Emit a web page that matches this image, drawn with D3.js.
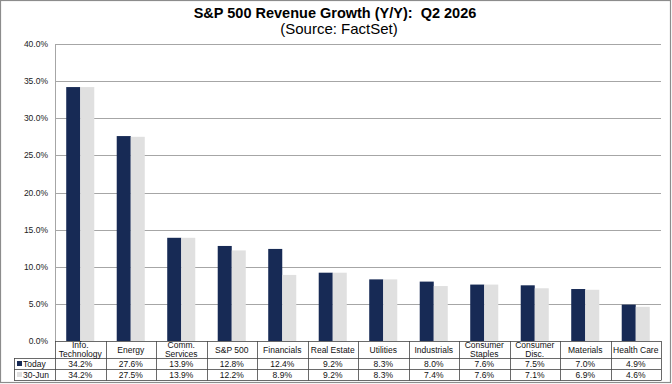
<!DOCTYPE html>
<html>
<head>
<meta charset="utf-8">
<script src="https://cdn.jsdelivr.net/npm/d3@7"></script>
<style>
  body { margin: 0; background: #fff; }
  text { font-family: Arial, "Liberation Sans", sans-serif; }
</style>
</head>
<body>
<div id="chart"></div>
<script>
// sector categories, with line breaks as shown under the bars
const categories = ["Info. Technology", "Energy", "Comm. Services", "S&P 500", "Financials", "Real Estate",
    "Utilities", "Industrials", "Consumer Staples", "Consumer Disc.", "Materials", "Health Care"];
const categoryLines = [["Info.", "Technology"], ["Energy"], ["Comm.", "Services"], ["S&P 500"], ["Financials"], ["Real Estate"],
    ["Utilities"], ["Industrials"], ["Consumer", "Staples"], ["Consumer", "Disc."], ["Materials"], ["Health Care"]];
const seriesNames = ["Today", "30-Jun"];
const todayValues = [34.2, 27.6, 13.9, 12.8, 12.4, 9.2, 8.3, 8.0, 7.6, 7.5, 7.0, 4.9];
const juneValues = [34.2, 27.5, 13.9, 12.2, 8.9, 9.2, 8.3, 7.4, 7.6, 7.1, 6.9, 4.6];
const yTicks = [0, 5, 10, 15, 20, 25, 30, 35, 40];
const colors = {"Today": "#172a55", "30-Jun": "#e0e0e0"};

const W = 672, H = 384;
const plot = {left: 55, right: 661, top: 44, bottom: 341};

const svg = d3.select("#chart").append("svg")
    .attr("width", W)
    .attr("height", H);

// outer frame
svg.append("rect")
    .attr("x", 0.5).attr("y", 0.5)
    .attr("width", W - 2).attr("height", H - 2)
    .attr("fill", "#fff")
    .attr("stroke", "#8c8c8c")
    .attr("stroke-width", 1.2);

// titles
svg.append("text")
    .attr("x", 335).attr("y", 18)
    .attr("text-anchor", "middle")
    .style("font-size", "14.5px").style("font-weight", "bold")
    .style("white-space", "pre")
    .text("S&P 500 Revenue Growth (Y/Y):  Q2 2026");
svg.append("text")
    .attr("x", 339).attr("y", 34)
    .attr("text-anchor", "middle")
    .style("font-size", "15px")
    .text("(Source: FactSet)");

// scales
const x = d3.scaleBand()
    .domain(categories)
    .range([plot.left, plot.right]);
const xInner = d3.scaleBand()
    .domain(seriesNames)
    .range([0, x.bandwidth()])
    .paddingOuter(0.8);
const y = d3.scaleLinear()
    .domain([0, 40])
    .range([plot.bottom, plot.top]);

// gridlines
svg.append("g")
    .selectAll("line")
    .data(yTicks.filter(d => d > 0))
    .join("line")
    .attr("x1", plot.left).attr("x2", plot.right)
    .attr("y1", d => Math.round(y(d)) + 0.5).attr("y2", d => Math.round(y(d)) + 0.5)
    .attr("stroke", "#a6a6a6");

// y axis labels
svg.append("g")
    .selectAll("text")
    .data(yTicks)
    .join("text")
    .attr("x", 48)
    .attr("y", d => y(d) + 3)
    .attr("text-anchor", "end")
    .style("font-size", "8.5px")
    .style("fill", "#222")
    .text(d => d.toFixed(1) + "%");

// bars
const rows = categories.map((c, i) => ({cat: c, values: [
    {name: "Today", value: todayValues[i]},
    {name: "30-Jun", value: juneValues[i]}
]}));

svg.append("g")
    .selectAll("g")
    .data(rows)
    .join("g")
    .attr("transform", d => `translate(${x(d.cat)},0)`)
    .selectAll("rect")
    .data(d => d.values)
    .join("rect")
    .attr("x", d => xInner(d.name))
    .attr("y", d => y(d.value))
    .attr("width", xInner.bandwidth())
    .attr("height", d => y(0) - y(d.value))
    .attr("fill", d => colors[d.name]);

// y axis line
svg.append("line")
    .attr("x1", plot.left + 0.5).attr("x2", plot.left + 0.5)
    .attr("y1", plot.top).attr("y2", plot.bottom)
    .attr("stroke", "#a6a6a6");

// data table under the chart
const tbl = {catBottom: 358, row1Bottom: 369, row2Bottom: 380, labelLeft: 14};
const tg = svg.append("g");
const lineColor = "#444";

// horizontal lines
[[plot.left, plot.bottom], [tbl.labelLeft, tbl.catBottom], [tbl.labelLeft, tbl.row1Bottom], [tbl.labelLeft, tbl.row2Bottom]]
    .forEach(([x0, yy]) => {
        tg.append("line")
            .attr("x1", x0).attr("x2", plot.right)
            .attr("y1", yy + 0.5).attr("y2", yy + 0.5)
            .attr("stroke", lineColor).attr("stroke-width", 0.8);
    });

// vertical lines
tg.selectAll("line.v")
    .data(categories.map(c => x(c)).concat([plot.right]))
    .join("line")
    .attr("class", "v")
    .attr("x1", d => Math.round(d) + 0.5).attr("x2", d => Math.round(d) + 0.5)
    .attr("y1", plot.bottom).attr("y2", tbl.row2Bottom + 0.5)
    .attr("stroke", lineColor).attr("stroke-width", 0.8);
tg.append("line")
    .attr("x1", tbl.labelLeft + 0.5).attr("x2", tbl.labelLeft + 0.5)
    .attr("y1", tbl.catBottom).attr("y2", tbl.row2Bottom + 0.5)
    .attr("stroke", lineColor).attr("stroke-width", 0.8);

// category labels
categories.forEach((c, i) => {
    const lines = categoryLines[i];
    const cx = x(c) + x.bandwidth() / 2;
    const t = tg.append("text")
        .attr("text-anchor", "middle")
        .style("font-size", "8.5px")
        .style("fill", "#111");
    if (lines.length === 1) {
        t.append("tspan").attr("x", cx).attr("y", 352.5).text(lines[0]);
    } else {
        t.append("tspan").attr("x", cx).attr("y", 348).text(lines[0]);
        t.append("tspan").attr("x", cx).attr("y", 356.5).text(lines[1]);
    }
});

// series rows
const seriesRows = [
    {name: "Today", values: todayValues, yText: 367},
    {name: "30-Jun", values: juneValues, yText: 378}
];
seriesRows.forEach(r => {
    tg.append("rect")
        .attr("x", 17).attr("y", r.yText - 6)
        .attr("width", 5).attr("height", 5)
        .attr("fill", colors[r.name]);
    tg.append("text")
        .attr("x", 23).attr("y", r.yText)
        .style("font-size", "8.5px")
        .style("fill", "#111")
        .text(r.name);
    r.values.forEach((v, i) => {
        tg.append("text")
            .attr("x", x(categories[i]) + x.bandwidth() / 2)
            .attr("y", r.yText)
            .attr("text-anchor", "middle")
            .style("font-size", "8.5px")
            .style("fill", "#111")
            .text(v.toFixed(1) + "%");
    });
});
</script>
</body>
</html>
